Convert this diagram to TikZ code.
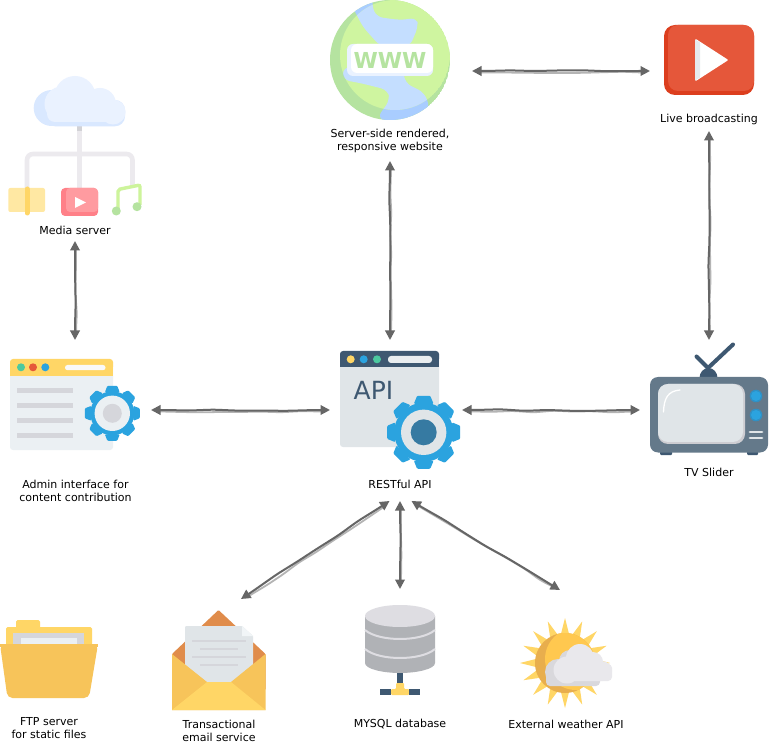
\documentclass[tikz,border=0pt]{standalone}
\usepackage{fontspec}
\setmainfont{DejaVu Sans}
\usetikzlibrary{arrows.meta,calc,decorations.pathmorphing}
\definecolor{inkdark}{HTML}{666666}
\definecolor{inklight}{HTML}{B4B4B4}
\definecolor{navy}{HTML}{3E5871}
\definecolor{gearblue}{HTML}{2BA3DF}
\definecolor{gold}{HTML}{FFD666}
\definecolor{amber}{HTML}{F7C45A}
\definecolor{paleg}{HTML}{E0E5E8}
\definecolor{paleh}{HTML}{EBF0F3}
\definecolor{greyl}{HTML}{D5D6DB}
\definecolor{mint}{HTML}{4CC99F}
\definecolor{limeA}{HTML}{CFF5A0}
\definecolor{limeB}{HTML}{B5E3A0}
\definecolor{waterA}{HTML}{C4DEFF}
\definecolor{waterB}{HTML}{A9CDFF}
\definecolor{redA}{HTML}{E5573A}
\definecolor{redB}{HTML}{DC3E1E}
\definecolor{tvbody}{HTML}{64798A}
\definecolor{flap}{HTML}{E08C4B}
\definecolor{dbbody}{HTML}{B0B2B6}
\definecolor{dbtop}{HTML}{DEDDE2}
\definecolor{sundisk}{HTML}{FFC84F}
\definecolor{sunshade}{HTML}{E8AE4D}
\definecolor{cloudA}{HTML}{E9E8EC}
\definecolor{cloudB}{HTML}{D9D8DC}
\definecolor{skyA}{HTML}{EAF2FF}
\definecolor{skyB}{HTML}{D9E8FF}
\definecolor{wire}{HTML}{ECEAEE}
\definecolor{wireB}{HTML}{D2D2D6}
\definecolor{playA}{HTML}{FF9BA0}
\definecolor{playB}{HTML}{FF8088}
\definecolor{bookA}{HTML}{FFE8A3}
\definecolor{noteA}{HTML}{CDF49B}
\tikzset{
  x=1pt,y=-1pt,
  iconbox/.style={inner sep=0pt,outer sep=0pt,minimum width=#1},
  caption/.style={inner sep=0pt,align=center,font=\fontsize{11}{13}\selectfont,text=black},
  linkmain/.style={draw=inkdark,line width=2pt,rounded corners=5pt,decorate,
    decoration={random steps,segment length=24pt,amplitude=0.9pt,pre length=14pt,post length=14pt},
    {Triangle[length=9.5pt,width=9.5pt]}-{Triangle[length=9.5pt,width=9.5pt]}},
  linkshade/.style={draw=inklight,line width=1.8pt,rounded corners=5pt,decorate,
    shorten <=6pt,shorten >=6pt,transform canvas={shift={(1pt,-1.5pt)}},
    decoration={random steps,segment length=20pt,amplitude=1pt,pre length=10pt,post length=10pt}},
}
\newcommand\sketchlink[2]{\draw[linkshade] #1 -- #2; \draw[linkmain] #1 -- #2;}
\newcommand\gearicon[8]{% cx cy Rout Rin ringR coreR ringcolor corecolor
  \fill[gearblue] (#1,#2) circle (#4);
  \foreach \a in {0,45,...,315}{
    \begin{scope}[shift={(#1,#2)},rotate=\a]
      \pgfmathsetmacro\wa{#3*0.27}\pgfmathsetmacro\wb{#3*0.18}
      \fill[gearblue,rounded corners=1pt] (-\wa,-#4+1) -- (-\wb,-#3) -- (\wb,-#3) -- (\wa,-#4+1) -- cycle;
    \end{scope}}
  \fill[#7] (#1,#2) circle (#5);
  \fill[#8] (#1,#2) circle (#6);
}
\begin{document}
\begin{tikzpicture}
\pgfmathsetseed{11}
\useasboundingbox[fill=white] (0,0) rectangle (769,743);

% invisible boxes of the icons
\node[iconbox=120pt,minimum height=120pt] (web) at (390,60) {};
\node[iconbox=90pt,minimum height=70pt] (live) at (709,60) {};
\node[iconbox=134pt,minimum height=142pt] (media) at (75,147) {};
\node[iconbox=130pt,minimum height=92pt] (admin) at (75,405) {};
\node[iconbox=121pt,minimum height=118pt] (api) at (400.5,410) {};
\node[iconbox=118pt,minimum height=116pt] (tv) at (709,402) {};
\node[iconbox=98pt,minimum height=78pt] (folder) at (49,659) {};
\node[iconbox=94pt,minimum height=100pt] (mail) at (219,660) {};
\node[iconbox=70pt,minimum height=90pt] (db) at (400,650) {};
\node[iconbox=92pt,minimum height=89pt] (sun) at (566,663.5) {};

% ---- globe
\begin{scope}
  \clip (390,60) circle (60);
  \fill[limeB] (390,60) circle (60);
  \fill[waterB,rounded corners=7pt] (343,67) -- (343,80) -- (360,83) -- (388,90) -- (390,100) -- (377,118) -- (400,125) -- (430,110) -- (425,93) -- (405,83) -- (403,68) -- cycle;
  \fill[waterB,rounded corners=6pt] (373,-4) -- (352,6) -- (363,27) -- (380,46) -- (410,46) -- (418,27) -- (417,18) -- (400,20) -- (377,17) -- (372,7) -- cycle;
  \begin{scope}
    \clip (395,55) circle (55);
    \fill[limeA] (395,55) circle (55);
    \fill[waterA,rounded corners=7pt] (343,67) -- (343,80) -- (360,83) -- (388,90) -- (390,100) -- (377,118) -- (400,125) -- (430,110) -- (425,93) -- (405,83) -- (403,68) -- cycle;
    \fill[waterA,rounded corners=6pt] (373,-4) -- (352,6) -- (363,27) -- (380,46) -- (410,46) -- (418,27) -- (417,18) -- (400,20) -- (377,17) -- (372,7) -- cycle;
  \end{scope}
\end{scope}
\fill[rounded corners=6pt,fill=skyA] (347,44) rectangle (433,76);
\fill[rounded corners=6pt,fill=white] (351,44) rectangle (433,73);
\node[inner sep=0pt,text=limeB,font=\fontsize{22}{22}\bfseries\selectfont] (wwwtext) at (390,60) {WWW};

% ---- live
\fill[redB,rounded corners=11pt] (664,25) rectangle (754,95);
\fill[redA,rounded corners=10pt] (668,25) rectangle (754,91);
\fill[white,line join=round,draw=white,line width=1.5pt] (696,40) -- (727,60) -- (696,80) -- cycle;
\fill[paleg!80!white] (695,39.5) -- (700,42.5) -- (700,77.5) -- (695,80.5) -- cycle;

% ---- media
\draw[wire,line width=4.6pt] (79.3,126) -- (79.3,189);
\fill[wireB] (77,125) rectangle (81.6,131);
\draw[wire,line width=4.6pt,rounded corners=6pt] (27,190) -- (27,154) -- (132.5,154) -- (132.5,186);
\fill[skyB] (51.7,108) circle (18);
\fill[skyB,rounded corners=10pt] (45,100) rectangle (125,126.3);
\fill[skyA] (62,104) circle (17.5) (75,96.7) circle (20.7) (100,104) circle (16) (113,112) circle (12.5) (62,107) circle (15);
\fill[skyA,rounded corners=8pt] (47,102) rectangle (125,122);
\fill[skyA] (66,110) rectangle (113,122);
\fill[bookA,rounded corners=2pt] (8.3,188) rectangle (45,212);
\draw[gold,line width=5pt,line cap=round] (27,189) -- (27,213);
\fill[playB,rounded corners=4pt] (61,188) rectangle (98,216);
\fill[playA,rounded corners=4pt] (66,188) rectangle (98,212);
\fill[white] (75,197) -- (86,202.5) -- (75,208) -- cycle;
\draw[noteA,line width=3.4pt,rounded corners=2pt] (118,209) -- (118,189.5) -- (140,185) -- (140,205);
\fill[limeB] (116.3,211) circle (4.5) (137,206.7) circle (4.5);

% ---- admin
\fill[paleh,rounded corners=3pt] (10,365) rectangle (113,450);
\fill[gold,rounded corners=3pt] (10,359) rectangle (113,370);
\fill[gold] (10,365) rectangle (113,376);
\fill[mint] (21,367.3) circle (4);
\fill[redA] (33,367.3) circle (4);
\fill[gearblue] (45.3,367.3) circle (4);
\fill[white!95!gray,rounded corners=2.5pt] (65,365) rectangle (105.5,370.2);
\foreach \yy in {388,403,418,433}{\fill[greyl] (17,\yy) rectangle (73,\yy+5);}
\gearicon{112.3}{413.3}{27.5}{22}{17.7}{9.5}{paleh}{greyl}

% ---- api
\fill[paleg,rounded corners=3pt] (340,357) rectangle (439,447);
\fill[navy,rounded corners=3pt] (340,351) rectangle (439,362);
\fill[navy] (340,358) rectangle (439,367);
\fill[gold] (350.7,359.3) circle (4);
\fill[gearblue] (363.7,359.3) circle (4);
\fill[mint] (377,359.3) circle (4);
\fill[paleg!70!white,rounded corners=3pt] (388,356) rectangle (432,363);
\node[inner sep=0pt,text=navy,font=\fontsize{25}{25}\selectfont] (apitext) at (373.5,390) {API};
\gearicon{423.7}{432.3}{36.5}{29.5}{22.7}{13}{paleg}{gearblue!45!navy}

% ---- tv
\draw[navy,line width=4pt,line cap=round] (708,368) -- (733,344.5);
\draw[navy,line width=4pt,line cap=round] (708,368) -- (696.5,356.5);
\fill[navy] (699.5,378) arc (180:360:9 and 10) -- cycle;
\fill[navy,rounded corners=1pt] (660,450) rectangle (672,455);
\fill[navy,rounded corners=1pt] (747,450) rectangle (758,455);
\fill[tvbody,rounded corners=8pt] (650,377) rectangle (768,452.5);
\fill[greyl!90!gray,rounded corners=10pt] (658,384) rectangle (745,444);
\fill[paleg,rounded corners=10pt] (658,384) rectangle (743,442);
\draw[white,line width=1.3pt,line cap=round] (663.5,412) .. controls (664,398) and (668,391) .. (680,390);
\fill[gearblue!75!navy] (756,396) circle (6.3) (756,415) circle (6.3);
\fill[gearblue] (756,396) circle (5) (756,415) circle (5);
\draw[paleg,line width=2.8pt,line cap=round] (750,432) -- (762,432);
\draw[paleg,line width=2.8pt,line cap=round] (750,438) -- (762,438);

% ---- folder
\fill[gold,rounded corners=1.5pt] (16,620) rectangle (40,632);
\fill[gold,rounded corners=1.5pt] (6,627) rectangle (92,650);
\fill[greyl] (13,633) rectangle (84,650);
\fill[paleh] (21,638) rectangle (77,650);
\fill[amber,rounded corners=5pt] (0,644) -- (98,644) -- (89,698) -- (7.5,698) -- cycle;
\fill[amber] (0,644) rectangle (98,647);

% ---- mail
\fill[flap,rounded corners=1pt] (172,654) -- (218.5,610) -- (265.5,654) -- (265.5,690) -- (172,690) -- cycle;
\fill[paleg,rounded corners=1pt] (185,626) -- (242,626) -- (253,636) -- (253,690) -- (185,690) -- cycle;
\fill[paleh!70!white] (242,626) -- (253,636) -- (242,636) -- cycle;
\foreach \ya/\xa/\xb in {641/192/246,649/200/238,657/192/246,665/200/238}{
  \draw[greyl,line width=2.8pt] (\xa,\ya) -- (\xb,\ya);}
\fill[amber] (172,654) -- (207,682) -- (231,682) -- (265.5,654) -- (265.5,710) -- (172,710) -- cycle;
\fill[gold] (172,710) -- (207,682) -- (231,682) -- (265.5,710) -- cycle;

% ---- database
\fill[navy] (397,670) rectangle (403,684);
\fill[gold,rounded corners=1pt] (396,683) -- (404,683) -- (404,689) -- (409,689) -- (409,695) -- (391,695) -- (391,689) -- (396,689) -- cycle;
\fill[navy] (380,689) rectangle (391,694.5);
\fill[navy] (409,689) rectangle (420,694.5);
\fill[dbbody] (365,616) -- (365,663) .. controls (365,669) and (383,673) .. (400,673) .. controls (417,673) and (435,669) .. (435,663) -- (435,616) -- cycle;
\fill[dbtop] (400,616) ellipse (35 and 11);
\draw[dbtop,line width=2pt] (365,630) .. controls (372,636) and (386,639) .. (400,639) .. controls (414,639) and (428,636) .. (435,630);
\draw[dbtop,line width=2pt] (365,649) .. controls (372,655) and (386,658) .. (400,658) .. controls (414,658) and (428,655) .. (435,649);

% ---- sun
\foreach \a in {0,22.5,...,337.5}{
  \fill[gold] ($(565,663)+(\a-9:28)$) -- ($(565,663)+(\a:45)$) -- ($(565,663)+(\a+9:28)$) -- cycle;}
\fill[sunshade] (565,663) circle (30);
\begin{scope}
  \clip (565,663) circle (30);
  \fill[sundisk] (576,659) circle (31);
\end{scope}
\fill[cloudB] (558,672) circle (13) (570,661) circle (11);
\fill[cloudB,rounded corners=4pt] (546,672) rectangle (600,686);
\fill[cloudA] (567,670) circle (13.5) (580,658) circle (14) (593,662) circle (10) (602,671) circle (10);
\fill[cloudA,rounded corners=4pt] (558,664) rectangle (612,681);
\fill[cloudA] (570,672) rectangle (602,681);

% ---- captions
\node[caption] (weblabel) at (390,141) {Server-side rendered,\\responsive website};
\node[caption] (livelabel) at (709,119) {Live broadcasting};
\node[caption] (medialabel) at (75,230) {Media server};
\node[caption] (adminlabel) at (75.5,490.5) {Admin interface for\\content contribution};
\node[caption] (apilabel) at (400,484) {RESTful API};
\node[caption] (tvlabel) at (709,472) {TV Slider};
\node[caption] (folderlabel) at (49,728.5) {FTP server\\for static files};
\node[caption] (maillabel) at (219,730.5) {Transactional\\email service};
\node[caption] (dblabel) at (400,724) {MYSQL database};
\node[caption] (sunlabel) at (566,724) {External weather API};

% ---- connectors
\sketchlink{($(web.east)+(22,11)$)}{($(live.west)+(-14,11)$)}
\sketchlink{($(web.south)+(0,41)$)}{($(api.north)+(-10.5,-11)$)}
\sketchlink{($(live.south)+(0,36)$)}{($(tv.north)+(0,-4)$)}
\sketchlink{($(media.south)+(0,23)$)}{($(admin.north)+(0,-19)$)}
\sketchlink{($(admin.east)+(11,5)$)}{($(api.west)+(-10,0)$)}
\sketchlink{($(api.east)+(1,0)$)}{($(tv.west)+(-10,8)$)}
\sketchlink{($(api.south)+(-11,32)$)}{($(mail.north)+(22,-11)$)}
\sketchlink{($(api.south)+(-0.5,32)$)}{($(db.north)+(0,-16)$)}
\sketchlink{($(api.south)+(11,32)$)}{($(sun.north)+(-6,-29)$)}
\end{tikzpicture}
\end{document}
